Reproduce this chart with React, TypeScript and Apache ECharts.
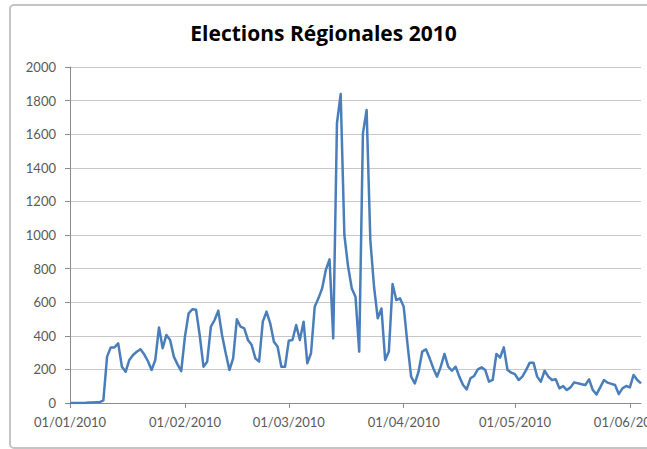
import React, { useEffect, useRef } from "react";
import * as echarts from "echarts";

// Daily counts, 1 January 2010 through 4 June 2010
const dailyCounts: number[] = [
  0, 0, 0, 0, 0, 3, 3, 4, 5, 15,
  276, 331, 331, 355, 216, 186, 256, 286, 305, 320,
  290, 250, 196, 256, 450, 326, 405, 375, 276, 230,
  190, 395, 534, 558, 555, 400, 216, 246, 454, 494,
  550, 405, 296, 196, 266, 498, 454, 444, 375, 345,
  266, 246, 484, 544, 474, 365, 335, 216, 216, 370,
  375, 464, 375, 484, 236, 296, 573, 623, 682, 792,
  855, 385, 1665, 1839, 1000, 812, 682, 633, 306, 1605,
  1744, 970, 692, 504, 563, 256, 306, 708, 613, 623,
  573, 355, 157, 117, 186, 306, 320, 266, 206, 157,
  216, 292, 216, 192, 216, 157, 107, 81, 147, 161,
  200, 212, 196, 127, 137, 292, 270, 331, 196, 181,
  172, 137, 157, 196, 240, 240, 157, 127, 192, 157,
  137, 141, 87, 101, 77, 93, 123, 117, 112, 107,
  141, 77, 51, 93, 137, 121, 114, 107, 53, 87,
  101, 93, 167, 137, 117,
];

// Month-start labels shown under the date axis
const monthTickLabels: string[] = [
  "01/01/2010",
  "01/02/2010",
  "01/03/2010",
  "01/04/2010",
  "01/05/2010",
  "01/06/2010",
];

const chartTitle = "Elections Régionales 2010";

const pad = (n: number) => (n < 10 ? "0" + n : String(n));

// dd/mm/yyyy label for each day of the series
const dayLabels: string[] = dailyCounts.map((_, i) => {
  const d = new Date(Date.UTC(2010, 0, 1 + i));
  return `${pad(d.getUTCDate())}/${pad(d.getUTCMonth() + 1)}/${d.getUTCFullYear()}`;
});

const isMonthStart = (index: number) => monthTickLabels.includes(dayLabels[index]);

const FONT = "Lato, 'Open Sans', 'DejaVu Sans', sans-serif";
const TITLE_FONT = "'Open Sans', 'Noto Sans', sans-serif";

export default function App() {
  const ref = useRef<HTMLDivElement>(null);

  useEffect(() => {
    if (!ref.current) return;
    const chart = echarts.init(ref.current, undefined, { renderer: "svg" });
    chart.setOption({
      animation: false,
      backgroundColor: "#ffffff",
      title: {
        text: chartTitle,
        left: "center",
        top: 17,
        textStyle: {
          fontFamily: TITLE_FONT,
          fontSize: 21,
          fontWeight: "bold",
          color: "#000000",
        },
      },
      graphic: [
        {
          type: "rect",
          shape: { x: 10, y: 5, width: 660, height: 443, r: 4 },
          style: { fill: "none", stroke: "#c4c4c4", lineWidth: 2 },
          silent: true,
        },
      ],
      grid: {
        left: 70,
        right: 6,
        top: 67,
        bottom: 46,
        containLabel: false,
        outerBoundsMode: "none",
      },
      xAxis: {
        type: "category",
        data: dayLabels,
        boundaryGap: false,
        axisLine: { show: true, lineStyle: { color: "#8c8c8c", width: 1 } },
        axisTick: {
          show: true,
          interval: (index: number) => isMonthStart(index),
          length: 5,
          lineStyle: { color: "#8c8c8c" },
        },
        axisLabel: {
          interval: (index: number) => isMonthStart(index),
          color: "#595959",
          fontFamily: FONT,
          fontSize: 13,
          margin: 12,
          hideOverlap: false,
        },
        splitLine: { show: false },
      },
      yAxis: {
        type: "value",
        min: 0,
        max: 2000,
        interval: 200,
        axisLine: { show: true, lineStyle: { color: "#8c8c8c", width: 1 } },
        axisTick: { show: true, length: 5, lineStyle: { color: "#8c8c8c" } },
        axisLabel: {
          color: "#595959",
          fontFamily: FONT,
          fontSize: 13,
          margin: 14,
          formatter: (v: number) => String(v),
        },
        splitLine: { show: true, lineStyle: { color: "#c8c8c8", width: 1 } },
      },
      series: [
        {
          type: "line",
          data: dailyCounts,
          showSymbol: false,
          symbol: "none",
          lineStyle: { color: "#4a7ebb", width: 2.5, join: "round" },
        },
      ],
    });
    return () => chart.dispose();
  }, []);

  return (
    <div
      ref={ref}
      style={{ position: "fixed", left: 0, top: 0, width: 647, height: 449, background: "#fff" }}
    />
  );
}
